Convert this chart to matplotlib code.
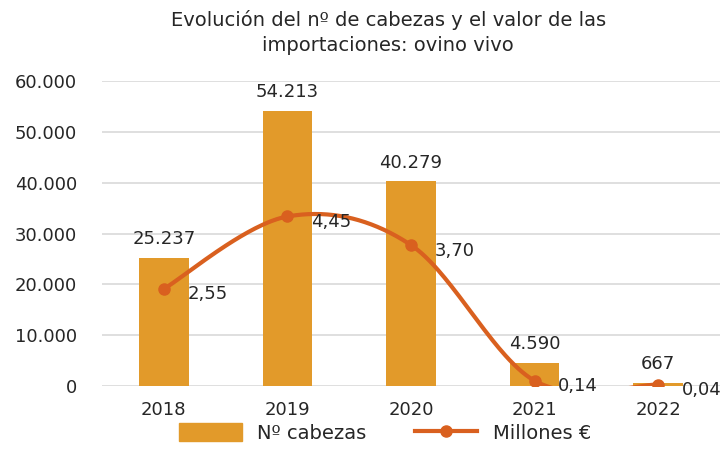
import matplotlib
matplotlib.use("Agg")
import matplotlib.pyplot as plt
import numpy as np
from matplotlib.lines import Line2D
from matplotlib.patches import Patch

years = ["2018", "2019", "2020", "2021", "2022"]
cabezas = [25237, 54213, 40279, 4590, 667]
millones = [2.55, 4.45, 3.70, 0.14, 0.04]
yticks = [0, 10000, 20000, 30000, 40000, 50000, 60000]

BAR = "#E29A2A"
LINE = "#D9601F"
GRID = "#D9D9D9"
TXT = "#262626"
plt.rcParams['font.family'] = ['DejaVu Sans']

def thousands(v):
    return f"{v:,.0f}".replace(",", ".")

fig = plt.figure(figsize=(7.2, 4.72), dpi=100)
ax = fig.add_axes([0.1417, 0.182, 0.8583, 0.646])
x = np.arange(len(years))
bars = ax.bar(x, cabezas, width=0.4, color=BAR, zorder=2)
ax.set_xlim(-0.5, len(years) - 0.5)
ax.set_ylim(0, 60000)
ax.set_yticks(yticks)
ax.set_yticklabels([thousands(v) for v in yticks], fontsize=13, color=TXT)
ax.set_xticks(x)
ax.set_xticklabels(years, fontsize=13, color=TXT)
ax.tick_params(axis='both', length=0)
ax.tick_params(axis='y', pad=18)
ax.tick_params(axis='x', pad=11)
for s in ax.spines.values():
    s.set_visible(False)
ax.grid(axis='y', color=GRID, linewidth=1.2, zorder=0)
ax.set_axisbelow(True)
for xi, v in zip(x, cabezas):
    ax.annotate(thousands(v), (xi, v), xytext=(0, 7), textcoords='offset points',
                ha='center', va='bottom', fontsize=13, color=TXT)

ax2 = ax.twinx()
ax2.set_ylim(0, 8)
ax2.set_axis_off()

# smoothed line (Catmull-Rom style bezier, like Excel's smoothed line)
px = x.astype(float)
py = np.array(millones, dtype=float)
cx, cy = [], []
t = np.linspace(0, 1, 60)
n = len(px)
for i in range(n - 1):
    p0 = np.array([px[i], py[i]])
    p3 = np.array([px[i + 1], py[i + 1]])
    pm = np.array([px[i - 1], py[i - 1]]) if i > 0 else p0
    pn = np.array([px[i + 2], py[i + 2]]) if i + 2 < n else p3
    p1 = p0 + (p3 - pm) / 6
    p2 = p3 - (pn - p0) / 6
    b = ((1 - t)[:, None] ** 3 * p0 + 3 * ((1 - t) ** 2 * t)[:, None] * p1
         + 3 * ((1 - t) * t ** 2)[:, None] * p2 + (t ** 3)[:, None] * p3)
    cx.extend(b[:, 0]); cy.extend(b[:, 1])
ax2.plot(cx, cy, color=LINE, linewidth=3, zorder=3, solid_capstyle='round')
ax2.plot(px, py, 'o', color=LINE, markersize=8, zorder=4)
for xi, v in zip(px, millones):
    ax2.annotate(f"{v:.2f}".replace(".", ","), (xi, v), xytext=(17, -4),
                 textcoords='offset points', ha='left', va='center',
                 fontsize=13, color=TXT, annotation_clip=False)

fig.text(0.539, 0.932, "Evolución del nº de cabezas y el valor de las\nimportaciones: ovino vivo",
         ha='center', va='center', fontsize=14, color=TXT, linespacing=1.4)

handles = [Patch(facecolor=BAR, edgecolor=BAR),
           Line2D([0], [0], color=LINE, linewidth=3, marker='o', markersize=8)]
fig.legend(handles, ["Nº cabezas", "Millones €"], loc='center', bbox_to_anchor=(0.535, 0.083),
           ncol=2, frameon=False, fontsize=14, handlelength=3.2, handleheight=1.0,
           columnspacing=2.5, labelcolor=TXT)

fig.savefig("out.png", dpi=100)
